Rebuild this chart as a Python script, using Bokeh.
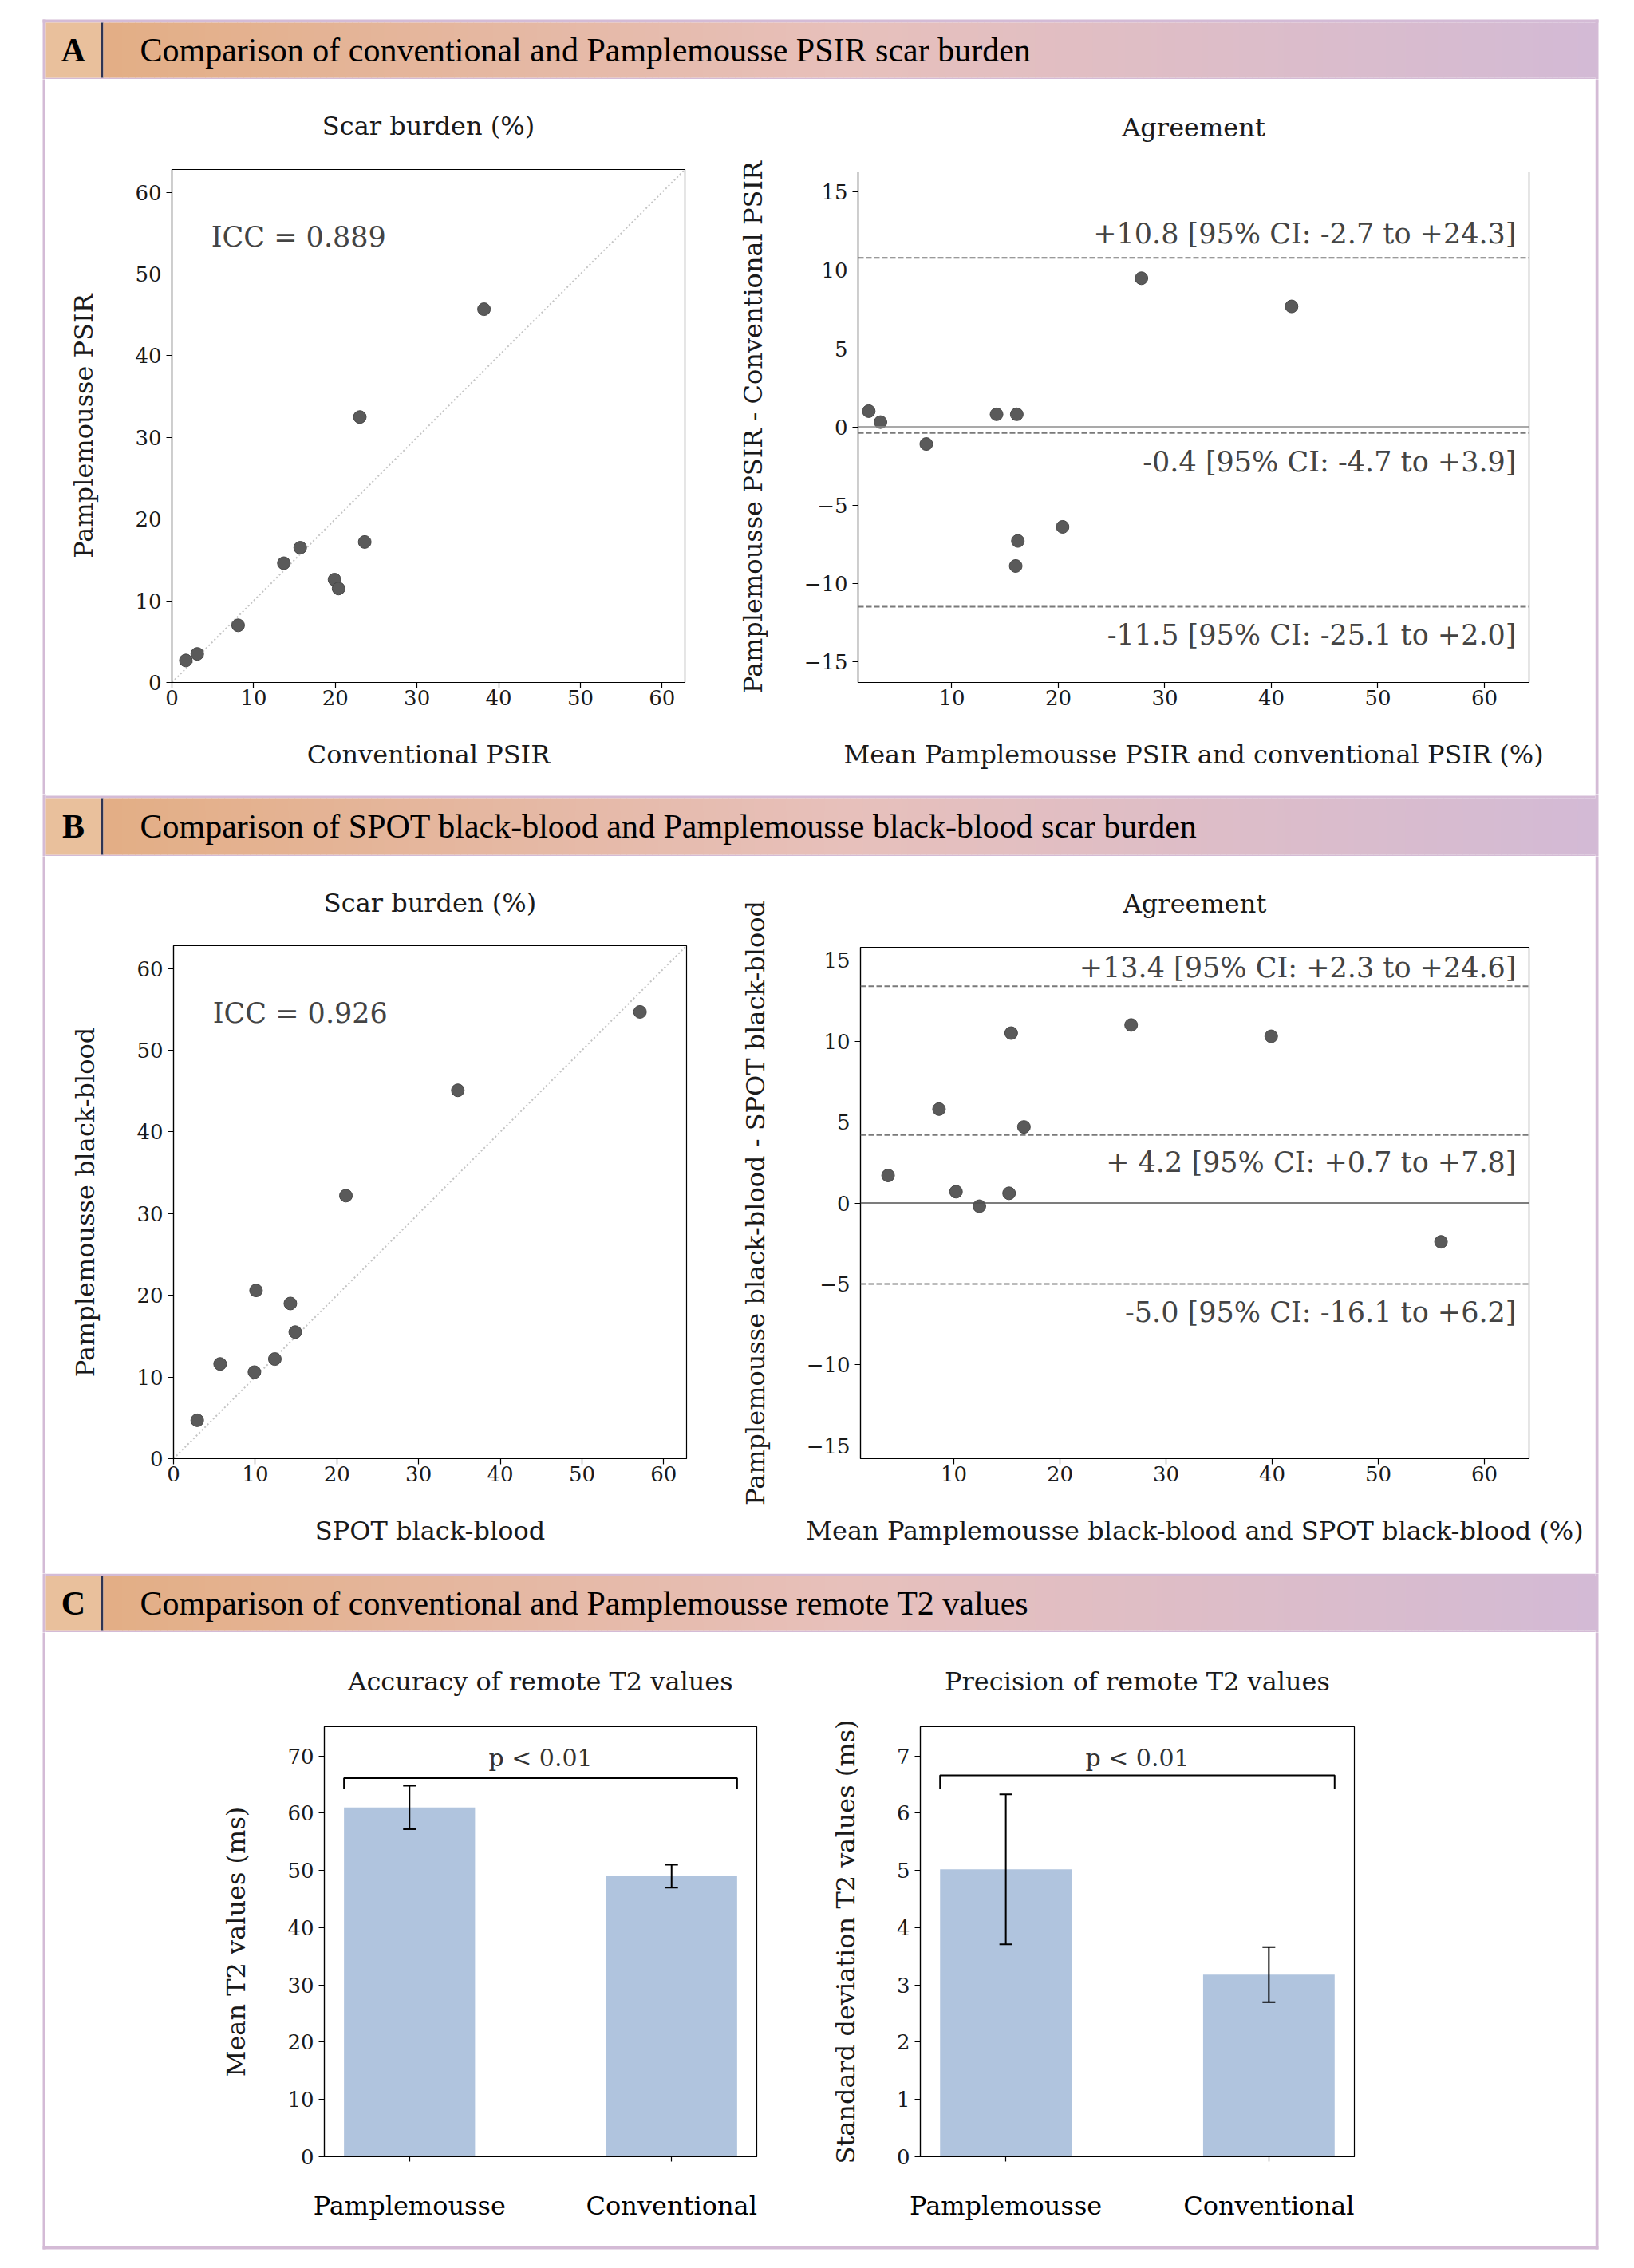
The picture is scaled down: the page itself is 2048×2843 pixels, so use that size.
from bokeh.plotting import figure
from bokeh.layouts import column, row
from bokeh.models import (Range1d, ColumnDataSource, Whisker, TeeHead, FixedTicker,
                          CustomJSTickFormatter, Span)
from bokeh.core.properties import value
from bokeh.embed import file_html
from bokeh.resources import INLINE

# ---------------- data ----------------
psir_conventional = [1.7, 3.1, 8.1, 13.7, 15.7, 19.9, 20.4, 23.0, 23.6, 38.2]
psir_pamplemousse = [2.7, 3.5, 7.0, 14.6, 16.5, 12.6, 11.5, 32.5, 17.2, 45.7]
psir_ba_mean = [2.2, 3.3, 7.6, 14.2, 16.1, 16.2, 16.0, 27.8, 20.4, 41.9]
psir_ba_diff = [1.0, 0.3, -1.1, 0.8, 0.8, -7.3, -8.9, 9.5, -6.4, 7.7]
psir_icc = "ICC = 0.889"
psir_limits = [10.8, -0.4, -11.5]
psir_limit_labels = ["+10.8 [95% CI: -2.7 to +24.3]",
                     "-0.4 [95% CI: -4.7 to +3.9]",
                     "-11.5 [95% CI: -25.1 to +2.0]"]

bb_spot = [2.9, 5.7, 9.9, 10.1, 12.4, 14.3, 14.9, 21.1, 34.8, 57.1]
bb_pamplemousse = [4.7, 11.6, 10.6, 20.6, 12.2, 19.0, 15.5, 32.2, 45.1, 54.7]
bb_ba_mean = [3.8, 8.6, 10.2, 15.4, 12.4, 16.6, 15.2, 26.7, 39.9, 55.9]
bb_ba_diff = [1.7, 5.8, 0.7, 10.5, -0.2, 4.7, 0.6, 11.0, 10.3, -2.4]
bb_icc = "ICC = 0.926"
bb_limits = [13.4, 4.2, -5.0]
bb_limit_labels = ["+13.4 [95% CI: +2.3 to +24.6]",
                   "+ 4.2 [95% CI: +0.7 to +7.8]",
                   "-5.0 [95% CI: -16.1 to +6.2]"]

t2_categories = ["Pamplemousse", "Conventional"]
t2_mean = [61.0, 49.0]
t2_mean_err = [3.8, 2.0]
t2_sd = [5.02, 3.18]
t2_sd_err = [1.31, 0.48]
p_text = "p < 0.01"

scatter_ticks = [0, 10, 20, 30, 40, 50, 60]
ba_x_ticks = [10, 20, 30, 40, 50, 60]
ba_y_ticks = [-15, -10, -5, 0, 5, 10, 15]
t2_mean_ticks = [0, 10, 20, 30, 40, 50, 60, 70]
t2_sd_ticks = [0, 1, 2, 3, 4, 5, 6, 7]

section_letters = ["A", "B", "C"]
section_titles = ["Comparison of conventional and Pamplemousse PSIR scar burden",
                  "Comparison of SPOT black-blood and Pamplemousse black-blood scar burden",
                  "Comparison of conventional and Pamplemousse remote T2 values"]

# ---------------- styles ----------------
SERIF = "DejaVu Serif"
HEAD_FONT = "Liberation Serif"
LAV = "#d4bbd6"
NAVY = "#2f3452"
CELL = "#e9c09c"
GRAD_STOPS = [(129, (227, 174, 133)), (1060, (231, 192, 187)), (1999, (211, 186, 213))]
PT_FILL = "#5a5a5a"
PT_LINE = "#474747"
TXT_GRAY = "#444444"
BAR = "#b0c4de"
TITLE_BOX = 42  # approx. height of a 32px title box in px

# decoration rectangles in page pixel coordinates (x0, x1, y0, y1, color)
RECTS = [(53, 57, 24, 2819, LAV), (1999, 2003, 24, 2819, LAV),
         (53, 2003, 24, 28, LAV), (53, 2003, 2815, 2819, LAV)]
TEXTS = []
HEADERS = [(28, 97, None, (97, 99)), (1000, 1071, (997, 1000), (1071, 1073)),
           (1975, 2043, (1972, 1975), (2043, 2046))]


def grad_color(x):
    for (xa, ca), (xb, cb) in zip(GRAD_STOPS[:-1], GRAD_STOPS[1:]):
        if xa <= x <= xb:
            t = (x - xa) / (xb - xa)
            c = [int(round(a + (b - a) * t)) for a, b in zip(ca, cb)]
            return "#%02x%02x%02x" % tuple(c)
    return "#%02x%02x%02x" % GRAD_STOPS[-1][1]


for (hy0, hy1, above, below), letter, title in zip(HEADERS, section_letters, section_titles):
    if above:
        RECTS.append((57, 1999, above[0], above[1], LAV))
    RECTS.append((57, 1999, below[0], below[1], LAV))
    RECTS.append((57, 126, hy0, hy1, CELL))
    RECTS.append((126, 129, hy0, hy1, NAVY))
    step = 8
    x = 129
    while x < 1999:
        x2 = min(x + step, 1999)
        RECTS.append((x, x2 + 0.6, hy0, hy1, grad_color(x + step / 2)))
        x = x2
    yc = (hy0 + hy1) / 2
    TEXTS.append((91.5, yc, letter, "center", "bold"))
    TEXTS.append((175, yc, title, "left", "normal"))


def deco(x0, x1, y0, y1):
    p = figure(width=x1 - x0, height=y1 - y0, x_range=Range1d(x0, x1), y_range=Range1d(y1, y0),
               output_backend="svg", toolbar_location=None, x_axis_type=None, y_axis_type=None,
               min_border=0, outline_line_color=None, background_fill_color="white",
               border_fill_color="white", frame_align=False)
    p.grid.visible = False
    sel = [r for r in RECTS if r[1] > x0 and r[0] < x1 and r[3] > y0 and r[2] < y1]
    if sel:
        p.quad(left=[r[0] for r in sel], right=[r[1] for r in sel],
               top=[r[2] for r in sel], bottom=[r[3] for r in sel],
               fill_color=[r[4] for r in sel], line_color=None)
    for tx, ty, t, al, st in TEXTS:
        if x0 <= tx < x1 and y0 <= ty < y1:
            p.text(x=[tx], y=[ty], text=[t], text_align=al, text_baseline="middle",
                   text_font=value(HEAD_FONT), text_font_size="42px", text_font_style=st,
                   text_color="black")
    return p


def base_fig(width, height, xr, yr, borders, title):
    l, r, t, b = borders
    p = figure(width=width, height=height, x_range=Range1d(*xr), y_range=Range1d(*yr),
               output_backend="svg", toolbar_location=None, title=title,
               min_border_left=l, min_border_right=r, min_border_top=t, min_border_bottom=b,
               background_fill_color="white", border_fill_color="white", frame_align=False)
    p.grid.visible = False
    p.outline_line_color = "black"
    p.outline_line_width = 1.2
    p.title.align = "center"
    p.title.text_font = SERIF
    p.title.text_font_size = "32px"
    p.title.text_font_style = "normal"
    p.title.text_color = "#1a1a1a"
    p.title.standoff = t - TITLE_BOX
    for ax in (p.xaxis[0], p.yaxis[0]):
        ax.axis_label_text_font = SERIF
        ax.axis_label_text_font_size = "32px"
        ax.axis_label_text_font_style = "normal"
        ax.axis_label_text_color = "#1a1a1a"
        ax.major_label_text_font = SERIF
        ax.major_label_text_font_size = "26px"
        ax.major_label_text_color = "#1a1a1a"
        ax.minor_tick_line_color = None
        ax.major_tick_out = 7
        ax.major_tick_in = 0
        ax.major_tick_line_width = 1.2
        ax.axis_line_width = 1.2
    p.xaxis.major_label_standoff = 2
    p.yaxis.major_label_standoff = 6
    p.xaxis.axis_label_standoff = 40
    p.yaxis.axis_label_standoff = 42
    return p


minus_fmt = CustomJSTickFormatter(code="return (tick < 0 ? '\u2212' : '') + Math.abs(tick).toString();")


def scatter_panel(xs, ys, icc, xlabel, ylabel, width, height, borders):
    p = base_fig(width, height, (0, 62.8), (0, 62.8), borders, "Scar burden (%)")
    p.xaxis.axis_label = xlabel
    p.yaxis.axis_label = ylabel
    p.xaxis.ticker = FixedTicker(ticks=scatter_ticks)
    p.yaxis.ticker = FixedTicker(ticks=scatter_ticks)
    p.line(x=[0, 62.8], y=[0, 62.8], line_color="#c4c4c4", line_width=2, line_dash="2 3")
    p.scatter(x=xs, y=ys, size=16, fill_color=PT_FILL, line_color=PT_LINE, line_width=1)
    p.text(x=[4.8], y=[54.5], text=[icc], text_baseline="middle", text_align="left",
           text_font=value(SERIF), text_font_size="35px", text_color=TXT_GRAY)
    return p


def ba_panel(xs, ys, limits, labels, xlabel, ylabel, yr, zero_color, offsets, width, height, borders):
    p = base_fig(width, height, (1.2, 64.2), yr, borders, "Agreement")
    p.xaxis.axis_label = xlabel
    p.yaxis.axis_label = ylabel
    p.xaxis.ticker = FixedTicker(ticks=ba_x_ticks)
    p.yaxis.ticker = FixedTicker(ticks=ba_y_ticks)
    p.yaxis.formatter = minus_fmt
    p.add_layout(Span(location=0, dimension="width", line_color=zero_color, line_width=1.6))
    for lv in limits:
        p.add_layout(Span(location=lv, dimension="width", line_color="#7a7a7a",
                          line_width=2, line_dash="7 3"))
    p.scatter(x=xs, y=ys, size=16, fill_color=PT_FILL, line_color=PT_LINE, line_width=1)
    for lv, lab, off in zip(limits, labels, offsets):
        p.text(x=[64.2], y=[lv], text=[lab], text_align="right", text_baseline="middle",
               x_offset=-16, y_offset=off, text_font=value(SERIF), text_font_size="35px",
               text_color=TXT_GRAY)
    return p


def bar_panel(vals, errs, title, ylabel, yr, ticks, bracket, ptext_y, width, height, borders):
    p = base_fig(width, height, (-0.325, 1.325), yr, borders, title)
    p.yaxis.axis_label = ylabel
    idx = list(range(len(t2_categories)))
    p.xaxis.ticker = FixedTicker(ticks=idx)
    p.xaxis.major_label_overrides = {i: c for i, c in zip(idx, t2_categories)}
    p.xaxis.major_label_text_font_size = "32px"
    p.xaxis.major_label_text_color = "black"
    p.xaxis.major_tick_out = 6
    p.xaxis.major_label_standoff = 36
    p.yaxis.ticker = FixedTicker(ticks=ticks)
    p.vbar(x=idx, top=vals, width=0.5, fill_color=BAR, line_color=None)
    src = ColumnDataSource(dict(x=idx, upper=[v + e for v, e in zip(vals, errs)],
                                lower=[v - e for v, e in zip(vals, errs)]))
    p.add_layout(Whisker(source=src, base="x", upper="upper", lower="lower",
                         line_color="black", line_width=2, level="overlay",
                         upper_head=TeeHead(size=16, line_color="black", line_width=2),
                         lower_head=TeeHead(size=16, line_color="black", line_width=2)))
    lo, hi = bracket
    p.line(x=[idx[0] - 0.25, idx[0] - 0.25, idx[-1] + 0.25, idx[-1] + 0.25],
           y=[lo, hi, hi, lo], line_color="black", line_width=2)
    p.text(x=[(idx[0] + idx[-1]) / 2], y=[ptext_y], text=[p_text], text_align="center",
           text_baseline="middle", text_font=value(SERIF), text_font_size="30px",
           text_color="#333333")
    return p


A1 = scatter_panel(psir_conventional, psir_pamplemousse, psir_icc, "Conventional PSIR",
                   "Pamplemousse PSIR", 843, 896, (158, 42, 113, 140))
A2 = ba_panel(psir_ba_mean, psir_ba_diff, psir_limits, psir_limit_labels,
              "Mean Pamplemousse PSIR and conventional PSIR (%)",
              "Pamplemousse PSIR - Conventional PSIR", (-16.35, 16.3), "#8c8c8c",
              [-30, 36, 36], 1099, 896, (175, 83, 116, 140))
B1 = scatter_panel(bb_spot, bb_pamplemousse, bb_icc, "SPOT black-blood",
                   "Pamplemousse black-blood", 843, 899, (160, 40, 112, 144))
B2 = ba_panel(bb_ba_mean, bb_ba_diff, bb_limits, bb_limit_labels,
              "Mean Pamplemousse black-blood and SPOT black-blood (%)",
              "Pamplemousse black-blood - SPOT black-blood", (-15.8, 15.8), "#505050",
              [-23, 34, 36], 1099, 899, (178, 83, 114, 144))
C1 = bar_panel(t2_mean, t2_mean_err, "Accuracy of remote T2 values", "Mean T2 values (ms)",
               (0, 75.1), t2_mean_ticks, (64.3, 66.1), 69.6, 943, 769, (349, 52, 118, 112))
C2 = bar_panel(t2_sd, t2_sd_err, "Precision of remote T2 values",
               "Standard deviation T2 values (ms)", (0, 7.51), t2_sd_ticks, (6.43, 6.66), 6.96,
               999, 769, (153, 302, 118, 112))

X_LEFT, X_RIGHT = 0, 2044


def band(y0, y1, figs):
    return row([deco(X_LEFT, 57, y0, y1)] + figs + [deco(1999, X_RIGHT, y0, y1)], spacing=0)


layout = column([
    deco(X_LEFT, X_RIGHT, 0, 99),
    band(99, 995, [A1, A2]),
    deco(X_LEFT, X_RIGHT, 995, 1073),
    band(1073, 1972, [B1, B2]),
    deco(X_LEFT, X_RIGHT, 1972, 2046),
    band(2046, 2815, [C1, C2]),
    deco(X_LEFT, X_RIGHT, 2815, 2838),
], spacing=0)

open("out.html", "w").write(file_html(layout, INLINE))
